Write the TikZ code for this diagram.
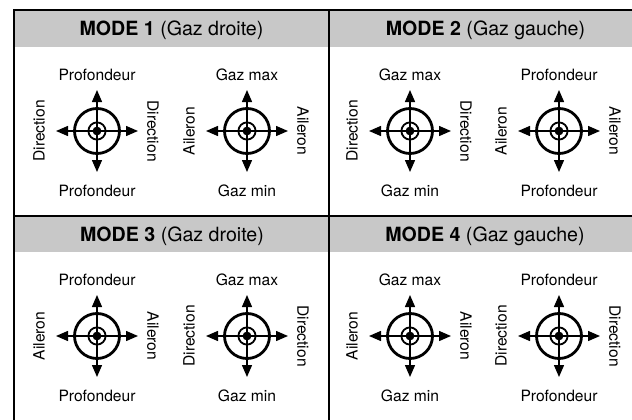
\documentclass[tikz,border=0pt]{standalone}
\usepackage{fontspec}
\setmainfont{TeX Gyre Heros}
\usetikzlibrary{arrows.meta}
\definecolor{hdr}{RGB}{200,200,200}
\tikzset{
  frameline/.style={line width=2.6pt},
  crossline/.style={line width=1.4pt,-{Triangle[length=12pt,width=10pt]}},
  ringline/.style={line width=2.8pt},
  innerring/.style={line width=1.8pt},
  lab/.style={inner sep=0pt,font=\fontsize{15.6}{18}\selectfont},
  hdrtext/.style={inner sep=0pt,anchor=base,font=\fontsize{19.6}{22}\selectfont},
}
\newcommand\stick[7]{%
  \coordinate (#1) at (#2,#3);
  \path (#1) ++(0,-41) coordinate (#1-n);
  \path (#1) ++(0,41) coordinate (#1-s);
  \path (#1) ++(-41,0) coordinate (#1-w);
  \path (#1) ++(41,0) coordinate (#1-e);
  \draw[ringline] (#1) circle[radius=22.5];
  \draw[innerring] (#1) circle[radius=8.6];
  \fill (#1) circle[radius=4.4];
  \draw[crossline] (#1) -- (#1-n);
  \draw[crossline] (#1) -- (#1-s);
  \draw[crossline] (#1) -- (#1-w);
  \draw[crossline] (#1) -- (#1-e);
  \path (#1) ++(0,-56) node[lab] (#1-tl) {#4};
  \path (#1) ++(0,60) node[lab] (#1-bl) {#5};
  \path (#1) ++(-58,0) node[lab,rotate=90] (#1-ll) {#6};
  \path (#1) ++(56,0) node[lab,rotate=-90] (#1-rl) {#7};
}
\begin{document}
\begin{tikzpicture}[x=1pt,y=-1pt]
\useasboundingbox (0,0) rectangle (632,420);
\clip (0,0) rectangle (632,420);
% header bands
\fill[hdr] (14,10) rectangle (640,47);
\fill[hdr] (14,216) rectangle (640,252);
% frame
\draw[frameline] (14,430) -- (14,10) -- (640,10);
\draw[frameline] (329,10) -- (329,430);
\draw[frameline] (14,216) -- (640,216);
% headers
\node[hdrtext] (h1) at (171.5,35.7) {\textbf{MODE 1} (Gaz droite)};
\node[hdrtext] (h2) at (485.5,35.7) {\textbf{MODE 2} (Gaz gauche)};
\node[hdrtext] (h3) at (172,241.7) {\textbf{MODE 3} (Gaz droite)};
\node[hdrtext] (h4) at (485,241.7) {\textbf{MODE 4} (Gaz gauche)};
% joysticks
\stick{a}{97}{131}{Profondeur}{Profondeur}{Direction}{Direction}
\stick{b}{247}{131}{Gaz max}{Gaz min}{Aileron}{Aileron}
\stick{c}{410}{131}{Gaz max}{Gaz min}{Direction}{Direction}
\stick{d}{559}{131}{Profondeur}{Profondeur}{Aileron}{Aileron}
\stick{e}{97}{336}{Profondeur}{Profondeur}{Aileron}{Aileron}
\stick{f}{247}{336}{Gaz max}{Gaz min}{Direction}{Direction}
\stick{g}{410}{336}{Gaz max}{Gaz min}{Aileron}{Aileron}
\stick{h}{559}{336}{Profondeur}{Profondeur}{Direction}{Direction}
\end{tikzpicture}
\end{document}
